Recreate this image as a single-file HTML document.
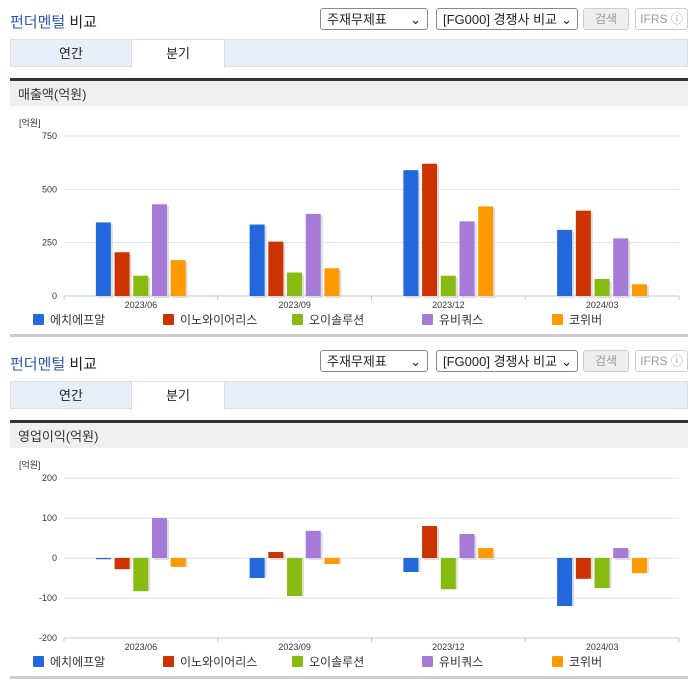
<!DOCTYPE html>
<html><head><meta charset="utf-8"><style>
body{margin:0;width:696px;height:684px;background:#fff;font-family:"Liberation Sans","Noto Sans CJK KR",sans-serif;position:relative;overflow:hidden}
.abs{position:absolute}
.title{left:10px;font-size:15px;color:#222}
.title b{color:#2c56b8;font-weight:normal}
.sel{height:22px;border:1px solid #888;border-radius:3px;font-size:13px;line-height:22px;padding-left:6px;box-sizing:border-box;background:#fff;color:#222}
.btn{height:22px;border:1px solid #ccc;border-radius:3px;font-size:12px;line-height:20px;text-align:center;box-sizing:border-box;color:#999}
.tabs{left:10px;width:678px;height:28px;background:#e8eef8;border:1px solid #d8dfea;box-sizing:border-box}
.tab{top:0;height:28px;font-size:13px;line-height:27px;text-align:center;color:#222}
.hdr{left:10px;width:678px;height:28px;background:#efefef;border-top:3px solid #333;font-size:13px;line-height:27px;padding-left:8px;box-sizing:border-box;color:#333}
.bottom{left:10px;width:678px;height:3px;background:#ccc}
svg text{font-family:"Liberation Sans","Noto Sans CJK KR",sans-serif}
</style></head><body>
<div id="root"></div>
<script>
const categories=["2023/06","2023/09","2023/12","2024/03"];
const seriesNames=["에치에프알","이노와이어리스","오이솔루션","유비쿼스","코위버"];
const colors=["#2367dc","#cc3300","#88bb11","#a67bd8","#ff9900"];
const revenue=[[345,335,590,310],[205,255,620,400],[95,110,95,80],[430,385,350,270],[168,130,420,55]];
const revTicks=[0,250,500,750];
const opIncome=[[-3,-50,-35,-120],[-28,15,80,-52],[-83,-95,-78,-75],[100,68,60,25],[-22,-15,25,-38]];
const opTicks=[-200,-100,0,100,200];

const root=document.getElementById('root');
function section(off,hdrText,data,ticks,yTop,yBot){
  const h=`
  <div class="abs title" style="top:${off+11}px"><b>펀더멘털</b> 비교</div>
  <div class="abs sel" style="top:${off+8}px;left:320px;width:108px">주재무제표<span style="position:absolute;right:6px">⌄</span></div>
  <div class="abs sel" style="top:${off+8}px;left:436px;width:142px">[FG000] 경쟁사 비교<span style="position:absolute;right:5px">⌄</span></div>
  <div class="abs btn" style="top:${off+8}px;left:583px;width:46px;background:#eee">검색</div>
  <div class="abs btn" style="top:${off+8}px;left:635px;width:53px">IFRS ⓘ</div>
  <div class="abs tabs" style="top:${off+39}px">
    <div class="abs tab" style="left:0;width:120px">연간</div>
    <div class="abs tab" style="left:120px;width:92px;background:#fff;border-left:1px solid #d8dfea;border-right:1px solid #d8dfea">분기</div>
  </div>
  <div class="abs hdr" style="top:${off+78}px">${hdrText}</div>
  <div class="abs bottom" style="top:${off+334}px"></div>`;
  root.insertAdjacentHTML('beforeend',h);
  const NS='http://www.w3.org/2000/svg';
  const svg=document.createElementNS(NS,'svg');
  
  
  svg.setAttribute('width','696');svg.setAttribute('height','240');
  svg.style.position='absolute';svg.style.left='0';svg.style.top=(off+100)+'px';
  root.appendChild(svg);
  const x0=64,x1=679,min=ticks[0],max=ticks[ticks.length-1];
  const Y=v=>yTop+(max-v)/(max-min)*(yBot-yTop);
  function el(tag,attrs,txt){const e=document.createElementNS(NS,tag);for(const k in attrs)e.setAttribute(k,attrs[k]);if(txt!==undefined)e.textContent=txt;svg.appendChild(e);return e;}
  const u=el('text',{x:19,y:yTop-10,'font-size':9,fill:'#333'},'[억원]');
  
  
  ticks.forEach(t=>{
    const g=el('line',{x1:x0,x2:x1,y1:Y(t),y2:Y(t),stroke:'#dde3ea'});
    
    
    const tl=el('text',{x:57,y:Y(t)+3,'font-size':9,fill:'#333','text-anchor':'end'},t);
    
    
  });
  el('line',{x1:x0,x2:x1,y1:yBot,y2:yBot,stroke:'#c0c8d0'});
  const gw=(x1-x0)/categories.length;
  for(let i=0;i<=categories.length;i++)el('line',{x1:x0+i*gw,x2:x0+i*gw,y1:yBot,y2:yBot+4,stroke:'#c0c8d0'});
  categories.forEach((c,i)=>{
    const cx=x0+gw*(i+0.5);
    const cl=el('text',{x:cx,y:yBot+12,'font-size':9,fill:'#333','text-anchor':'middle'},c);
    
    
    data.forEach((s,j)=>{
      const v=s[i];const bx=cx-45+j*18.7;
      const top=Math.min(Y(v),Y(0)),hh=Math.abs(Y(v)-Y(0));
      el('rect',{x:bx+2,y:top+(v>=0?2:0),width:15,height:hh,fill:'#ddd'});
      const r=el('rect',{x:bx,y:top,width:15,height:Math.max(hh,1),fill:colors[j]});
      
      
    });
  });
  const lx=[33,163,292,422,552];
  seriesNames.forEach((n,j)=>{
    const ly=yBot+24;
    const lr=el('rect',{x:lx[j],y:ly-6,width:11,height:11,fill:colors[j],rx:1});
    
    
    const lt=el('text',{x:lx[j]+17,y:ly+4,'font-size':12,fill:'#333'},n);
    
    
  });
}
section(0,'매출액(억원)',revenue,revTicks,36,196);
section(342,'영업이익(억원)',opIncome,opTicks,36,196);
</script>
</body></html>
